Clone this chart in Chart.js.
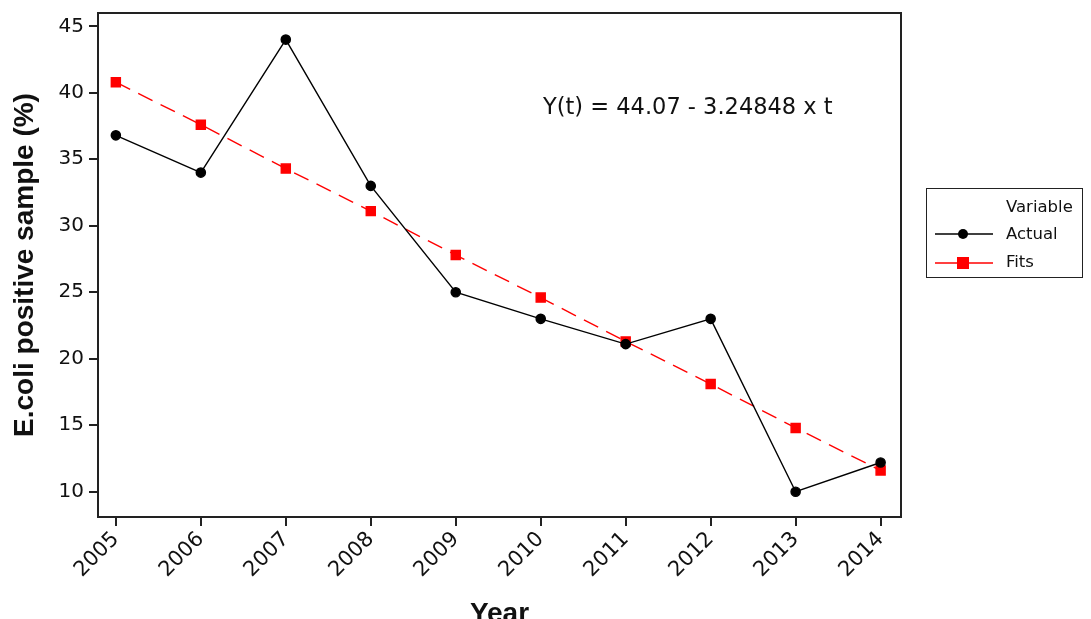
<!doctype html>
<html lang="en">
<head>
  <meta charset="utf-8">
  <title>E.coli positive sample trend</title>
  <style>
    * { margin: 0; padding: 0; }
    body { background: white; }
    .chartBox { width: 1091px; height: 619px; position: relative; }
  </style>
</head>
<body>
<div class="chartBox">
  <canvas id="myChart"></canvas>
</div>

<script src="https://cdn.jsdelivr.net/npm/chart.js"></script>
<script>
  // data
  const years  = [2005, 2006, 2007, 2008, 2009, 2010, 2011, 2012, 2013, 2014];
  const actual = [36.8, 34.0, 44.0, 33.0, 25.0, 23.0, 21.1, 23.0, 10.0, 12.2];
  const fits   = [40.8, 37.6, 34.3, 31.1, 27.8, 24.6, 21.3, 18.1, 14.8, 11.6];
  const yTicks = [10, 15, 20, 25, 30, 35, 40, 45];
  const equation = 'Y(t) = 44.07 - 3.24848 x t';

  const FONT = "'DejaVu Sans', Verdana, sans-serif";
  const BOLD = "'Liberation Sans', Arial, sans-serif";

  // frame round the plot area + equation + legend box on the right
  const extras = {
    id: 'extras',
    afterDraw(chart) {
      const ctx = chart.ctx;
      const a = chart.chartArea;
      ctx.save();
      ctx.strokeStyle = '#222';
      ctx.lineWidth = 2;
      ctx.strokeRect(a.left, a.top, a.right - a.left, a.bottom - a.top);

      ctx.fillStyle = '#111';
      ctx.font = '22.5px ' + FONT;
      ctx.textBaseline = 'middle';
      ctx.textAlign = 'left';
      ctx.fillText(equation, 543, 108);

      // legend
      ctx.lineWidth = 1;
      ctx.strokeStyle = '#222';
      ctx.strokeRect(926.5, 188.5, 156, 89);
      ctx.font = '16.5px ' + FONT;
      ctx.fillText('Variable', 1006, 208);
      ctx.fillText('Actual', 1006, 235);
      ctx.fillText('Fits', 1006, 263);

      ctx.strokeStyle = 'black';
      ctx.lineWidth = 1.5;
      ctx.beginPath(); ctx.moveTo(935, 234); ctx.lineTo(993, 234); ctx.stroke();
      ctx.fillStyle = 'black';
      ctx.beginPath(); ctx.arc(963, 234, 5, 0, Math.PI * 2); ctx.fill();

      ctx.strokeStyle = 'red';
      ctx.beginPath(); ctx.moveTo(935, 263); ctx.lineTo(993, 263); ctx.stroke();
      ctx.fillStyle = 'red';
      ctx.fillRect(957, 257, 12, 12);
      ctx.restore();
    }
  };

  const data = {
    datasets: [{
      label: 'Actual',
      data: years.map((y, i) => ({ x: y, y: actual[i] })),
      borderColor: 'black',
      backgroundColor: 'black',
      borderWidth: 1.4,
      pointStyle: 'circle',
      pointRadius: 4.6,
      tension: 0
    },
    {
      label: 'Fits',
      data: years.map((y, i) => ({ x: y, y: fits[i] })),
      borderColor: 'red',
      backgroundColor: 'red',
      borderWidth: 1.4,
      borderDash: [16, 9],
      pointStyle: 'rect',
      pointRadius: 6.4,
      tension: 0
    }]
  };

  const config = {
    type: 'line',
    data,
    options: {
      responsive: false,
      animation: false,
      layout: { padding: { top: 13, right: 190, left: 0, bottom: 0 } },
      scales: {
        x: {
          type: 'linear',
          min: 2004.79,
          max: 2014.24,
          afterBuildTicks: (s) => { s.ticks = years.map(v => ({ value: v })); },
          afterFit: (s) => { s.height = 102; s.paddingLeft = 0; s.paddingRight = 0; },
          grid: { drawOnChartArea: false, drawTicks: true, tickLength: 9, color: '#222', lineWidth: 2 },
          border: { display: false },
          ticks: {
            color: '#111',
            font: { family: FONT, size: 21 },
            minRotation: 45,
            maxRotation: 45,
            padding: 1,
            callback: (v) => String(v)
          },
          title: {
            display: true,
            text: 'Year',
            color: '#111',
            font: { family: BOLD, size: 28, weight: 'bold', lineHeight: 1 },
            padding: { top: 0, bottom: -9 }
          }
        },
        y: {
          min: 8.1,
          max: 46,
          afterBuildTicks: (s) => { s.ticks = yTicks.map(v => ({ value: v })); },
          afterFit: (s) => { s.width = 98; s.paddingTop = 0; s.paddingBottom = 0; },
          grid: { drawOnChartArea: false, drawTicks: true, tickLength: 9, color: '#222', lineWidth: 2 },
          border: { display: false },
          ticks: {
            color: '#111',
            font: { family: FONT, size: 20 },
            padding: 5
          },
          title: {
            display: true,
            text: 'E.coli positive sample (%)',
            color: '#111',
            font: { family: BOLD, size: 28, weight: 'bold', lineHeight: 1 },
            padding: { top: 11, bottom: 0 }
          }
        }
      },
      plugins: {
        legend: { display: false },
        tooltip: { enabled: false }
      }
    },
    plugins: [extras]
  };

  const canvas = document.getElementById('myChart');
  canvas.width = 1091;
  canvas.height = 619;
  const myChart = new Chart(canvas, config);
</script>
</body>
</html>
